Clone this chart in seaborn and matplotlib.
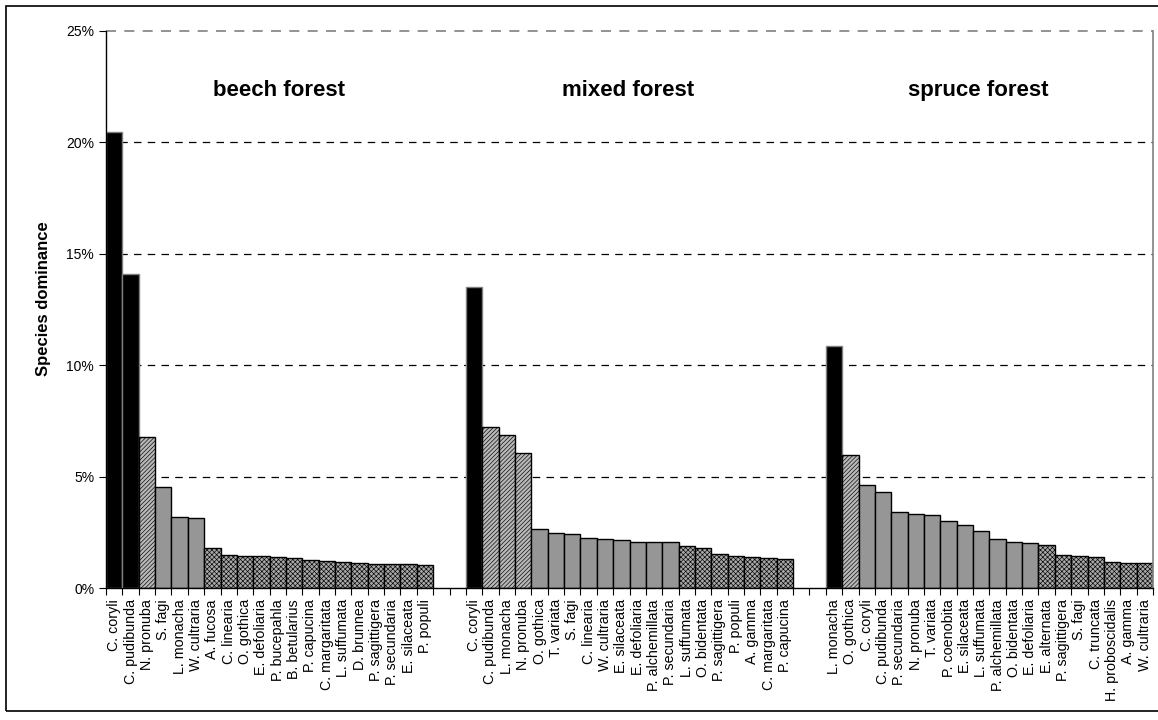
import pandas as pd
import matplotlib.pyplot as plt
import seaborn as sns
from matplotlib.patches import Rectangle
from matplotlib.ticker import PercentFormatter

# --- data (species dominance, %) ---
forests = ["beech forest", "mixed forest", "spruce forest"]

beech_species = ["C. coryli", "C. pudibunda", "N. pronuba", "S. fagi", "L. monacha",
                 "W. cultraria", "A. fucosa", "C. linearia", "O. gothica", "E. defoliaria",
                 "P. bucepahla", "B. betularius", "P. capucina", "C. margaritata",
                 "L. suffumata", "D. brunnea", "P. sagittigera", "P. secundaria",
                 "E. silaceata", "P. populi"]
beech_values = [20.45, 14.09, 6.79, 4.53, 3.17, 3.14, 1.80, 1.48, 1.45, 1.45,
                1.39, 1.35, 1.27, 1.21, 1.15, 1.12, 1.09, 1.08, 1.08, 1.03]

mixed_species = ["C. coryli", "C. pudibunda", "L. monacha", "N. pronuba", "O. gothica",
                 "T. variata", "S. fagi", "C. linearia", "W. cultraria", "E. silaceata",
                 "E. defoliaria", "P. alchemillata", "P. secundaria", "L. suffumata",
                 "O. bidentata", "P. sagittigera", "P. populi", "A. gamma",
                 "C. margaritata", "P. capucina"]
mixed_values = [13.50, 7.24, 6.87, 6.06, 2.63, 2.48, 2.42, 2.24, 2.21, 2.17,
                2.06, 2.06, 2.06, 1.87, 1.78, 1.54, 1.45, 1.38, 1.33, 1.29]

spruce_species = ["L. monacha", "O. gothica", "C. coryli", "C. pudibunda", "P. secundaria",
                  "N. pronuba", "T. variata", "P. coenobita", "E. silaceata", "L. suffumata",
                  "P. alchemillata", "O. bidentata", "E. defoliaria", "E. alternata",
                  "P. sagittigera", "S. fagi", "C. truncata", "H. proboscidalis",
                  "A. gamma", "W. cultraria"]
spruce_values = [10.88, 5.98, 4.62, 4.31, 3.41, 3.34, 3.29, 3.01, 2.83, 2.54,
                 2.20, 2.08, 2.02, 1.94, 1.47, 1.44, 1.38, 1.18, 1.12, 1.12]

GAP = 2  # empty category slots between forests


# dominance classes -> (face, hatch, edge)
def style_for(v):
    if v >= 10:
        return "black", "", "#7f7f7f"
    if v >= 5:
        return "#b8b8b8", "////////", "black"
    if v >= 2:
        return "#969696", "", "black"
    return "#a8a8a8", "xxxxxxx", "black"


def main():
    rows = []
    order = []
    tick_labels = []
    groups = [(beech_species, beech_values), (mixed_species, mixed_values),
              (spruce_species, spruce_values)]
    centers = []
    for gi, (names, vals) in enumerate(groups):
        start = len(order)
        for i, (n, v) in enumerate(zip(names, vals)):
            key = f"{gi}_{i}"
            rows.append({"key": key, "species": n, "value": v, "forest": forests[gi]})
            order.append(key)
            tick_labels.append(n)
        centers.append((start + len(order) - 1) / 2)
        if gi < len(groups) - 1:
            for g in range(GAP):
                order.append(f"gap{gi}_{g}")
                tick_labels.append("")
    df = pd.DataFrame(rows)

    sns.set_theme(style="ticks")
    plt.rcParams["font.family"] = ["Liberation Sans", "DejaVu Sans"]
    plt.rcParams["hatch.linewidth"] = 0.45
    plt.rcParams["text.color"] = "black"
    plt.rcParams["axes.labelcolor"] = "black"
    plt.rcParams["xtick.color"] = "black"
    plt.rcParams["ytick.color"] = "black"

    fig = plt.figure(figsize=(11.58, 7.2), dpi=100)
    ax = fig.add_axes([106 / 1158, 1 - 588 / 720, (1153 - 106) / 1158, (588 - 31) / 720])

    sns.barplot(data=df, x="key", y="value", order=order, width=1.0,
                color="#969696", edgecolor="black", linewidth=1.0, ax=ax)

    value_by_pos = {order.index(k): v for k, v in zip(df["key"], df["value"])}
    for p in ax.patches:
        pos = int(round(p.get_x() + p.get_width() / 2))
        if pos not in value_by_pos:
            continue
        face, hatch, edge = style_for(value_by_pos[pos])
        p.set_facecolor(face)
        p.set_edgecolor(edge)
        p.set_hatch(hatch)
        p.set_linewidth(1.0)

    n = len(order)
    ax.set_xlim(-0.5, n - 0.5)
    ax.set_ylim(0, 25)
    ax.yaxis.set_major_formatter(PercentFormatter(decimals=0))
    ax.set_yticks([0, 5, 10, 15, 20, 25])

    # category labels at centres, tick marks on boundaries
    ax.set_xticks(range(n))
    ax.set_xticklabels(tick_labels, rotation=90, fontsize=10.3, va="top", ha="center")
    ax.set_xticks([i - 0.5 for i in range(n + 1)], minor=True)
    ax.tick_params(axis="x", which="major", length=0, pad=8)
    ax.tick_params(axis="x", which="minor", length=5, width=0.8, direction="out", bottom=True)
    ax.tick_params(axis="y", length=5, width=0.8, direction="out", labelsize=10, left=True)
    ax.set_xlabel("")
    ax.set_ylabel("Species dominance", fontsize=12, fontweight="bold")
    ax.yaxis.set_label_coords(-0.053, 0.52)

    # dashed horizontal grid
    for yv in [5, 10, 15, 20]:
        ax.axhline(yv, color="black", lw=0.9, ls=(0, (6, 5)), zorder=0)
    ax.axhline(25, color="#808080", lw=1.2, ls=(0, (6, 5)), zorder=0, clip_on=False)

    for s in ["left", "bottom"]:
        ax.spines[s].set_color("black")
        ax.spines[s].set_linewidth(1.0)
    ax.spines["top"].set_visible(False)
    ax.spines["right"].set_visible(True)
    ax.spines["right"].set_color("#808080")
    ax.spines["right"].set_linewidth(1.2)

    label_x = [centers[0] + 0.6, centers[1] - 0.1, centers[2] - 0.7]
    for fx, name in zip(label_x, forests):
        ax.text(fx, 22.35, name, ha="center", va="center", fontsize=16, fontweight="bold")

    # outer frame of the figure
    fig.patches.append(Rectangle((5.5 / 1158, 9 / 720), 1.2, 705 / 720,
                                 transform=fig.transFigure, fill=False,
                                 edgecolor="black", linewidth=1.2))

    fig.savefig("out.png", dpi=100)


if __name__ == "__main__":
    main()
